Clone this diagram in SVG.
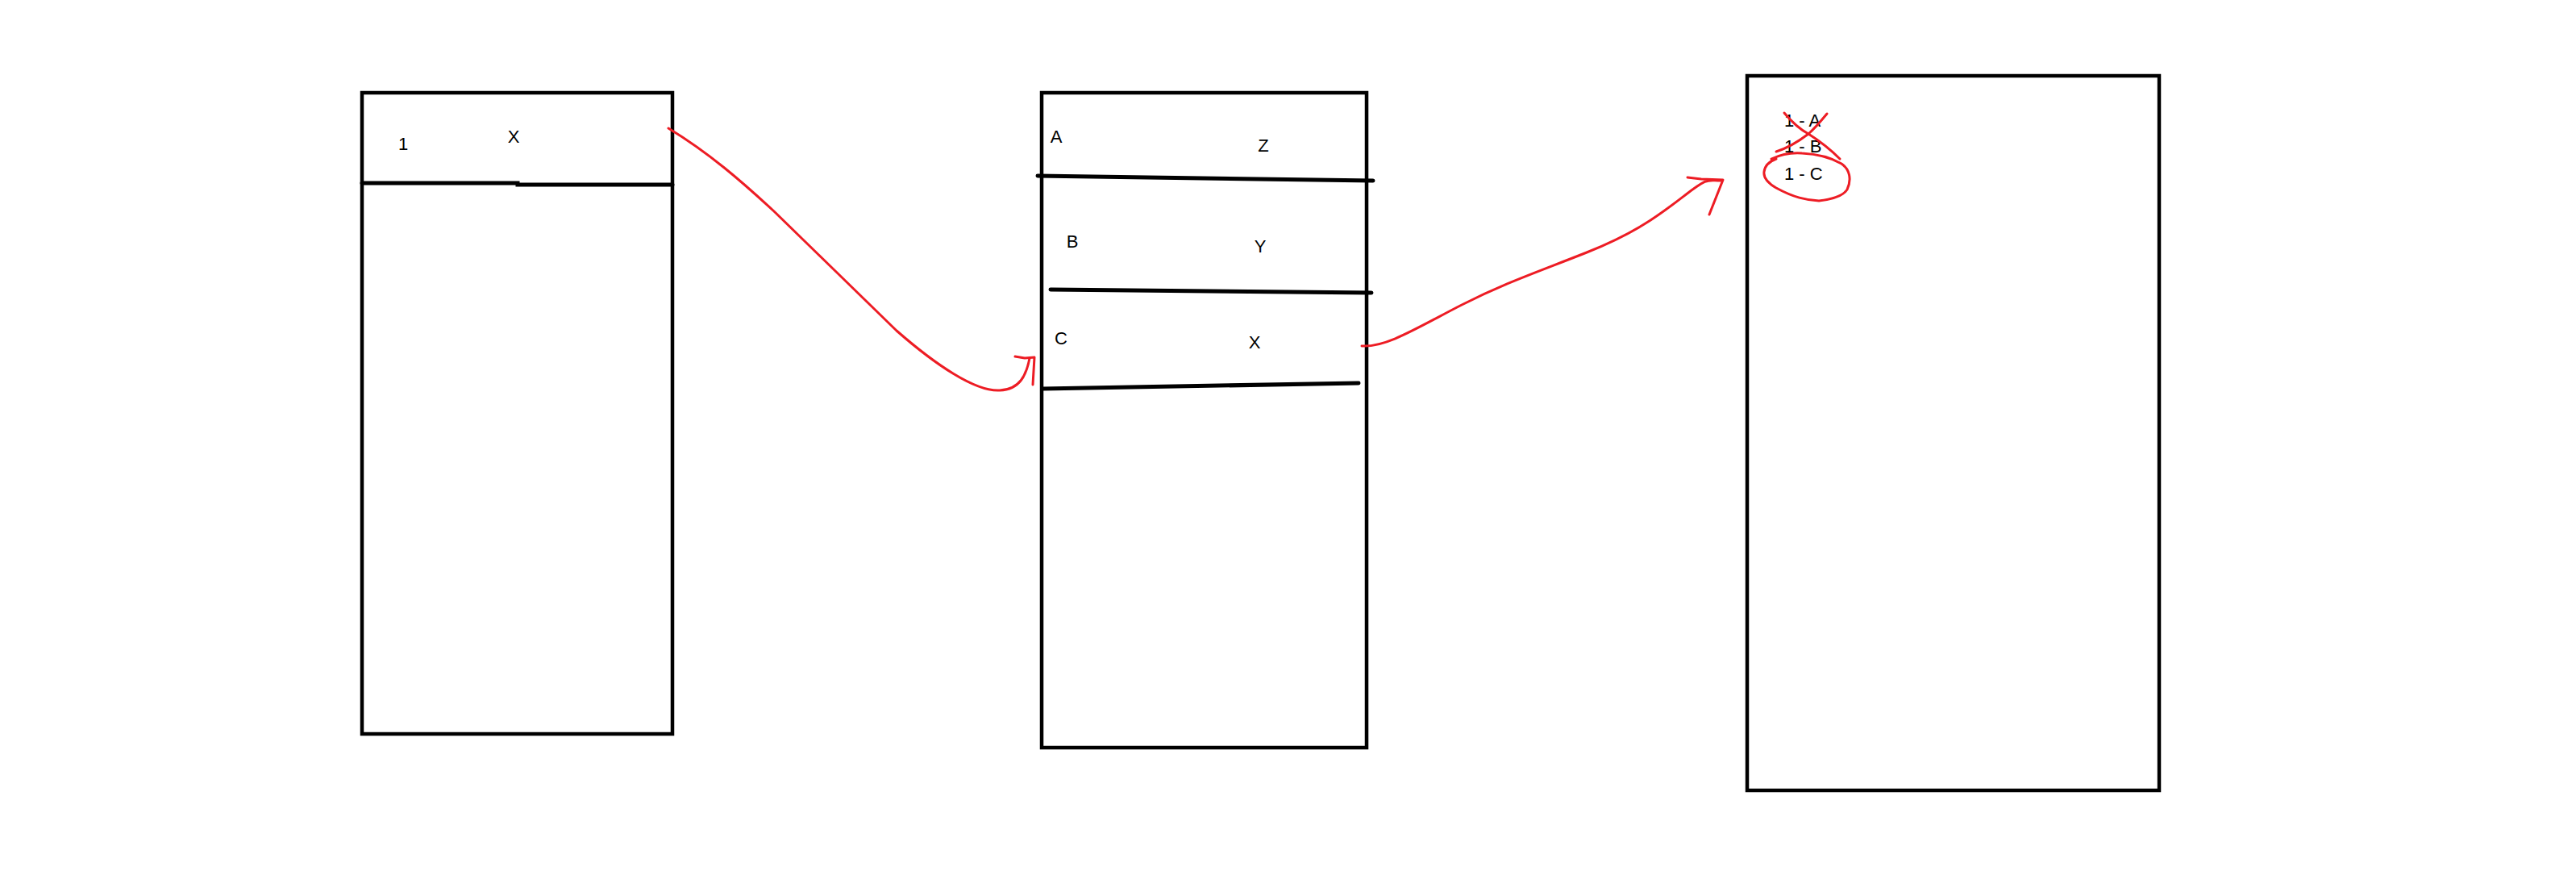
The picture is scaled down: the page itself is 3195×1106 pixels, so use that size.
<svg xmlns="http://www.w3.org/2000/svg" width="3195" height="1106" viewBox="0 0 3195 1106">
<style>
.box{fill:none;stroke:#000;stroke-width:4.5}
.div{fill:none;stroke:#000;stroke-width:5;stroke-linecap:round}
.red{fill:none;stroke:#ED1C24;stroke-width:3;stroke-linecap:round;stroke-linejoin:round}
text{font-family:"Liberation Sans","DejaVu Sans",sans-serif;font-size:22px;fill:#000}
</style>
<rect width="3195" height="1106" fill="#fff"/>
<g id="table1">
<rect class="box" x="449" y="115" width="385" height="795"/>
<path class="div" d="M449 227 L642 227 L642 229 L834 229"/>
<text x="500" y="186" text-anchor="middle">1</text>
<text x="637" y="177" text-anchor="middle">X</text>
</g>
<g id="table2">
<rect class="box" x="1292" y="115" width="403" height="812"/>
<path class="div" d="M1287 218 L1703 224"/>
<path class="div" d="M1303 359 L1701 363"/>
<path class="div" d="M1293 482 L1685 475"/>
<text x="1310" y="177" text-anchor="middle">A</text>
<text x="1567" y="188" text-anchor="middle">Z</text>
<text x="1330" y="307" text-anchor="middle">B</text>
<text x="1563" y="313" text-anchor="middle">Y</text>
<text x="1316" y="427" text-anchor="middle">C</text>
<text x="1556" y="432" text-anchor="middle">X</text>
</g>
<g id="table3">
<rect class="box" x="2167" y="94" width="511" height="886"/>
<text x="2213" y="157">1 - A</text>
<text x="2213" y="189">1 - B</text>
<text x="2213" y="223">1 - C</text>
<path class="red" d="M2213 140 Q2228 158 2243 166 Q2265 180 2282 197"/>
<path class="red" d="M2266 141 Q2252 158 2243 166 Q2222 182 2203 188"/>
<path class="red" d="M2197 197 C2210 191 2222 189 2235 190 C2255 191 2272 196 2284 203 C2294 210 2297 222 2291 235 C2286 243 2272 247 2256 249 C2240 248 2225 245 2203 233 C2193 227 2187 220 2188 213 C2189 205 2195 200 2203 197"/>
</g>
<g id="connectors">
<path class="red" d="M829 159 C880 190 920 225 960 262 L1112 410 C1160 452 1210 486 1240 484 C1265 483 1273 465 1277 444"/>
<path class="red" d="M1259 442 L1271 444 L1283 443 L1281 477"/>
<path class="red" d="M1689 429 C1720 431 1760 405 1813 378 S1905 338 1968 313 S2060 265 2090 242 S2118 224 2134 224"/>
<path class="red" d="M2093 220 L2110 222 L2137 223 L2120 266"/>
</g>
</svg>
